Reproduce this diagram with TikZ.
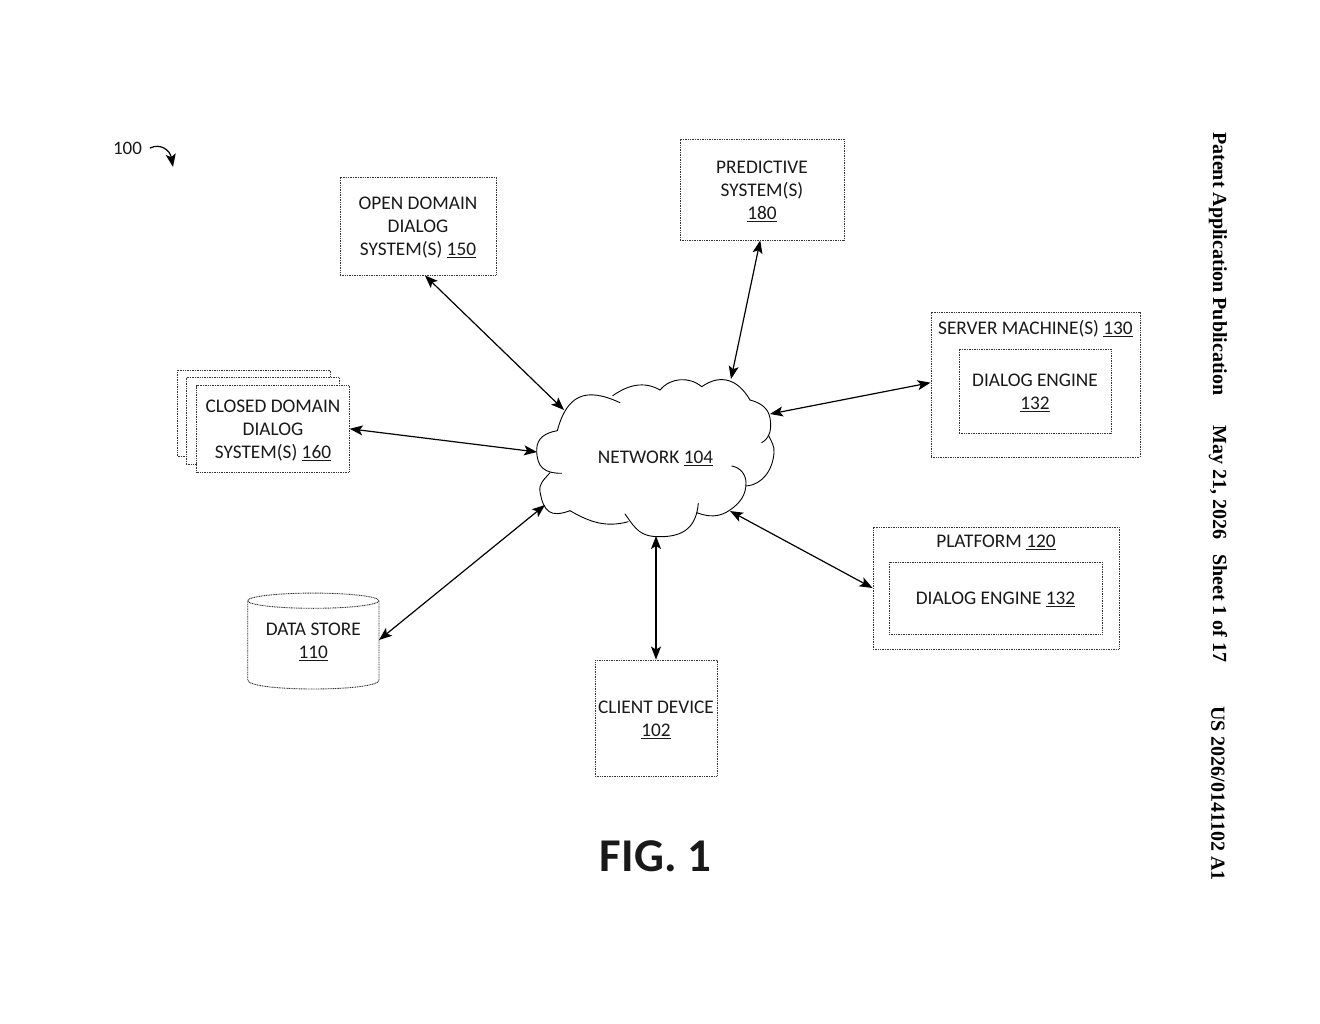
\documentclass[tikz,border=0pt]{standalone}
\usepackage{fontspec}
\setmainfont{Carlito}
\newfontfamily\headfont{Liberation Serif}
\usetikzlibrary{arrows.meta}
\newcommand{\lowerline}{\rule{0pt}{16pt}}
\tikzset{
	dotline/.style={draw=black!80,line width=0.9pt,line cap=butt,dash pattern=on 1pt off 0.7pt},
	dotbox/.style={dotline,fill=white,inner sep=0pt,align=center,text=black!90},
	lbl/.style={inner sep=0pt,align=center,text=black!90},
	link/.style={<->,line width=1.2pt},
	headtxt/.style={rotate=-90,anchor=west,inner sep=0pt,font=\headfont\bfseries\fontsize{20}{22}\selectfont}
}
\begin{document}
\begin{tikzpicture}[line cap=round,line join=round,>={Stealth[length=13pt,width=10pt,inset=3pt]},x=1pt,y=-1pt,font=\fontsize{19.300}{23}\selectfont]
	\useasboundingbox (0,0) rectangle (1320,1024);
	% network cloud, lobe by lobe
	\begin{scope}[line width=0.9pt]
		\draw (557.3,430.7) to[out=75,in=155,looseness=1.4] (620,402.7);
		\draw (612.7,395.7) to[out=35,in=150] (660,390);
		\draw (660,390) to[out=50,in=140] (701.7,386.7);
		\draw (701.7,386.7) to[out=35,in=120,looseness=1.2] (750,400);
		\draw (750,400) to[out=-15,in=100] (770,418) to[out=-80,in=30] (761.7,442.7);
		\draw (768.3,435) to[out=-65,in=85] (774,453) to[out=-95,in=5] (746,486);
		\draw (731.7,466) to[out=-10,in=90] (746,483) to[out=-90,in=35] (730,510) to[out=215,in=-20] (696.7,512.7);
		\draw (698.3,503.3) to[out=-95,in=0,looseness=1.2] (660,536.7) to[out=180,in=-55,looseness=1.2] (625,514);
		\draw (628.3,521.7) to[out=-165,in=-30] (570,510.7);
		\draw (570,510.7) to[out=-160,in=-80,looseness=1.5] (540,491.7) to[out=100,in=-130] (550,472.7);
		\draw (561.7,473.3) to[out=180,in=-90,looseness=1.3] (536.7,450) to[out=90,in=190,looseness=1.1] (557.3,430.7);
	\end{scope}
	\node[lbl] (net) at (655.5,458) {NETWORK \underline{104}};
	\coordinate (netnw) at (564,410);
	\coordinate (netn) at (731,379);
	\coordinate (nete) at (770,414);
	\coordinate (netw) at (537,452);
	\coordinate (netsw) at (545,505);
	\coordinate (nets) at (656,536);
	\coordinate (netse) at (730,511);
	% boxes
	\node[dotbox,minimum width=156pt,minimum height=98pt] (open) at (418,226) {\lowerline OPEN DOMAIN\\DIALOG\\SYSTEM(S) \underline{150}};
	\node[dotbox,minimum width=164pt,minimum height=101pt] (pred) at (762,189.5) {\lowerline PREDICTIVE\\SYSTEM(S)\\\underline{180}};
	\node[dotbox,minimum width=209pt,minimum height=145pt] (server) at (1035.5,384.5) {};
	\node[lbl] (serverlbl) at (1035.5,329) {SERVER MACHINE(S) \underline{130}};
	\node[dotbox,minimum width=152pt,minimum height=84pt] (engine) at (1035,391) {\lowerline DIALOG ENGINE\\\underline{132}};
	\node[dotbox,minimum width=246pt,minimum height=122pt] (platform) at (996,588) {};
	\node[lbl] (platformlbl) at (996,542) {PLATFORM \underline{120}};
	\node[dotbox,minimum width=213pt,minimum height=72pt] (engineb) at (995.5,598) {\lowerline DIALOG ENGINE \underline{132}};
	\node[dotbox,minimum width=153pt,minimum height=86.500pt] (closedc) at (254,413.3) {};
	\node[dotbox,minimum width=153pt,minimum height=86.500pt] (closedb) at (262.5,420.7) {};
	\node[dotbox,minimum width=152.500pt,minimum height=86.500pt] (closed) at (273,428.8) {\lowerline CLOSED DOMAIN\\DIALOG\\SYSTEM(S) \underline{160}};
	\node[dotbox,minimum width=122pt,minimum height=116pt] (client) at (656,718) {\lowerline CLIENT DEVICE\\\underline{102}};
	% data store drum
	\draw[dotline] (313.3,600.7) ellipse [x radius=65.6,y radius=7.6];
	\draw[dotline] (247.7,600.7) -- (247.7,680) .. controls (247.7,692) and (379,692) .. (379,680) -- (379,600.7);
	\node[lbl,minimum width=131pt,minimum height=96pt] (store) at (313.3,640) {\lowerline DATA STORE\\\underline{110}};
	% connectors
	\draw[link] (open.-82) -- (netnw);
	\draw[link] (pred.-92) -- (netn);
	\draw[link] (server.179) -- (nete);
	\draw[link] (closed.east) -- (netw);
	\draw[link] (store.east) -- (netsw);
	\draw[link] (client.north) -- (nets);
	\draw[link] (platform.west) -- (netse);
	% reference numeral
	\node[lbl,font=\fontsize{19}{22}\selectfont] (fignum) at (127.500,148) {100};
	\coordinate (fignumtip) at (173,167);
	\draw[->,line width=1.2pt] (fignum.east)++(8,0) .. controls (160,143) and (170,150) .. (fignumtip);
	% figure title and page header
	\node[lbl,font=\bfseries\fontsize{47}{50}\selectfont] (figtitle) at (655.5,856) {FIG. 1};
	\node[headtxt] (headpub) at (1218,132) {Patent Application Publication};
	\node[headtxt] (headdate) at (1218,425) {May 21, 2026\ \ \ Sheet 1 of 17};
	\node[headtxt] (headno) at (1218,706) {US 2026/0141102 A1};
\end{tikzpicture}
\end{document}
